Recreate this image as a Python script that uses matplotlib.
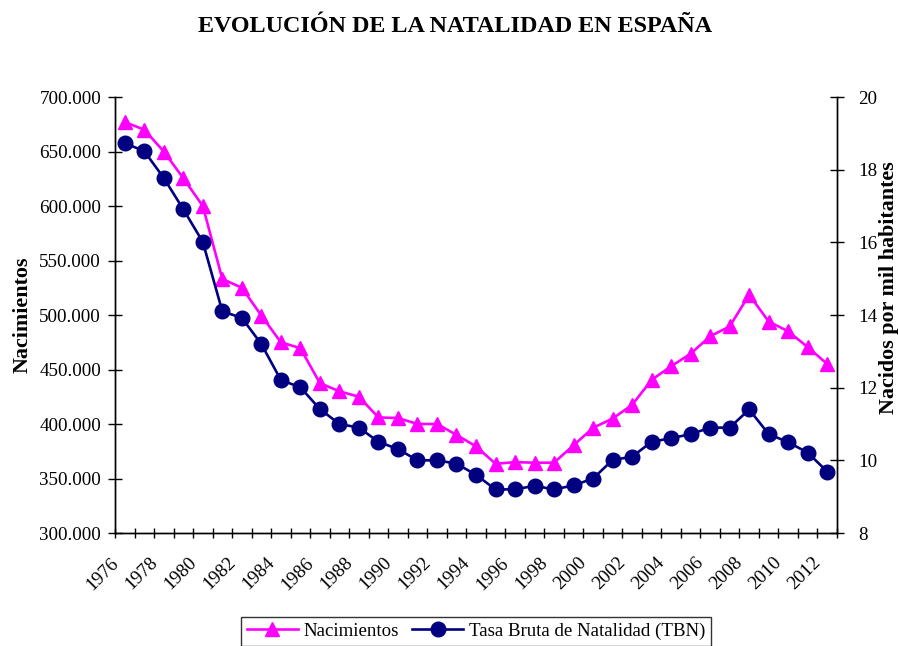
import matplotlib
matplotlib.use("Agg")
import matplotlib.pyplot as plt
import matplotlib.transforms as mtransforms
import numpy as np

years = list(range(1976, 2013))
nacimientos = [677000, 670000, 650000, 625500, 600000, 533000, 525000, 499500,
               475000, 469500, 437500, 430000, 425000, 406000, 405500, 400000,
               400000, 390000, 379500, 363500, 365000, 364500, 364500, 380500,
               396500, 405000, 417500, 440500, 453000, 464500, 480500, 489500,
               518500, 494000, 485000, 470500, 455000]
tbn = [18.73, 18.51, 17.77, 16.91, 16.01, 14.10, 13.92, 13.20, 12.21, 12.01,
       11.41, 11.00, 10.90, 10.51, 10.31, 10.00, 10.00, 9.91, 9.60, 9.20,
       9.20, 9.30, 9.20, 9.31, 9.50, 10.01, 10.10, 10.51, 10.61, 10.72,
       10.90, 10.90, 11.40, 10.72, 10.50, 10.21, 9.69]
left_ticks = [300000, 350000, 400000, 450000, 500000, 550000, 600000, 650000, 700000]
left_labels = ["300.000", "350.000", "400.000", "450.000", "500.000",
               "550.000", "600.000", "650.000", "700.000"]
right_ticks = [8, 10, 12, 14, 16, 18, 20]

plt.rcParams['font.family'] = ['Liberation Serif', 'DejaVu Serif']

fig = plt.figure(figsize=(8.98, 6.46), dpi=100)
ax = fig.add_axes([115/898, 1-533/646, (837-115)/898, (533-97)/646])
ax2 = ax.twinx()

x = np.arange(len(years))
l1, = ax.plot(x, nacimientos, color='#FF00FF', lw=1.9, marker='^', ms=10.5,
              label='Nacimientos', zorder=3)
l2, = ax2.plot(x, tbn, color='#000080', lw=1.9, marker='o', ms=10.5,
               label='Tasa Bruta de Natalidad (TBN)', zorder=3)

ax.set_xlim(-0.5, len(years) - 0.5)
ax.set_ylim(300000, 700000)
ax2.set_ylim(8, 20)

ax.set_yticks(left_ticks)
ax.set_yticklabels(left_labels, fontsize=13.7)
ax2.set_yticks(right_ticks)
ax2.set_yticklabels([str(t) for t in right_ticks], fontsize=13.7)

ax.set_xticks(x[::2])
ax.set_xticklabels([str(y) for y in years[::2]], fontsize=13.7, rotation=45,
                   ha='right', va='top', rotation_mode='anchor')
ax.set_xticks(np.arange(-0.5, len(years), 1.0), minor=True)
ax.tick_params(axis='x', which='major', length=0, pad=6)
ax.tick_params(axis='x', which='minor', direction='inout', length=6.5, width=1, color='black')
ax.tick_params(axis='y', direction='inout', length=10, width=1, color='black', pad=5)
ax2.tick_params(axis='y', direction='inout', length=10, width=1, color='black', pad=10)

offset = mtransforms.ScaledTranslation(-15/100, -13/100, fig.dpi_scale_trans)
for lab in ax.get_xticklabels():
    lab.set_transform(lab.get_transform() + offset)

for a in (ax, ax2):
    a.spines['top'].set_visible(False)
    for s in ('left', 'right', 'bottom'):
        a.spines[s].set_color('black')
        a.spines[s].set_linewidth(1)

ax.set_ylabel('Nacimientos', fontsize=15.8, fontweight='bold', labelpad=5)
ax2.set_ylabel('Nacidos por mil habitantes', fontsize=15.8, fontweight='bold')
ax2.yaxis.set_label_coords(1 + (879-837)/722, (533-288)/436)

fig.suptitle('EVOLUCIÓN DE LA NATALIDAD EN ESPAÑA', fontsize=17.4, fontweight='bold',
             x=455/898, y=1-16/646, va='top')

leg = fig.legend(handles=[l1, l2], loc='upper center', bbox_to_anchor=(476/898, 1-617/646),
                 ncol=2, fontsize=13.6, frameon=True, fancybox=False, edgecolor='black',
                 borderpad=0.3, borderaxespad=0, handlelength=2.7, columnspacing=0.7,
                 handletextpad=0.3)
leg.get_frame().set_linewidth(1)

fig.savefig('out.png', dpi=100)
